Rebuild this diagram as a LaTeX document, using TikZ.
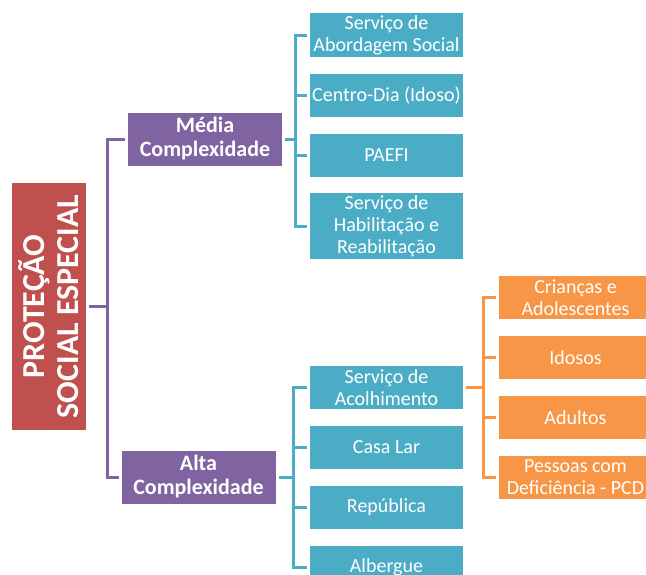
\documentclass[tikz,border=0pt]{standalone}
\usepackage{fontspec}
\setmainfont{Carlito}
\definecolor{redbox}{HTML}{C0504D}
\definecolor{purplebox}{HTML}{8064A2}
\definecolor{tealbox}{HTML}{4BACC6}
\definecolor{orangebox}{HTML}{F79646}
\begin{document}
\begin{tikzpicture}[x=1pt, y=-1pt,
        box/.style={inner sep=0pt, outer sep=3pt, text=white, align=center, font=\fontsize{20}{22}\selectfont},
        level1/.style={box, fill=purplebox, minimum width=154pt, minimum height=53pt, font=\bfseries\fontsize{22}{24}\selectfont},
        level2/.style={box, fill=tealbox, minimum width=153pt, minimum height=43pt},
        level3/.style={box, fill=orangebox, minimum width=153pt, minimum height=43pt},
        link/.style={line width=3pt}]
        \useasboundingbox (0,0) rectangle (646,574);
        \clip (0,0) rectangle (646,574);
        % root, turned on its side (its south side faces right)
        \node[box, fill=redbox, rotate=90, minimum width=247pt, minimum height=74pt,
            font=\bfseries\fontsize{32}{34}\selectfont] (root) at (49,306.5) {PROTEÇÃO\\SOCIAL ESPECIAL};
        \node[level1] (media) at (205,139) {Média\\Complexidade};
        \node[level1] (alta) at (198.5,477) {Alta\\Complexidade};
        % media complexidade
        \node[level2, minimum height=44pt] (m1) at (386.5,35) {Serviço de\\Abordagem Social};
        \node[level2] (m2) at (386.5,95.5) {Centro-Dia (Idoso)};
        \node[level2] (m3) at (386.5,155.5) {PAEFI};
        \node[level2, minimum height=66pt] (m4) at (386.5,226) {Serviço de\\Habilitação e\\Reabilitação};
        % alta complexidade
        \foreach \n/\y/\t in {a1/387.5/{Serviço de\\Acolhimento}, a2/447.5/Casa Lar,
                a3/507.5/República, a4/567.5/Albergue}
            {
                \node[level2] (\n) at (386.5,\y) {\t};
            }
        \foreach \n/\y/\t in {o1/297.5/{Crianças e\\Adolescentes}, o2/357.5/Idosos,
                o3/417.5/Adultos, o4/477.5/{Pessoas com\\Deficiência - PCD}}
            {
                \node[level3] (\n) at (575.5,\y) {\t};
            }
        % brackets
        \coordinate (pv) at (107,306.5);
        \coordinate (tm) at (295.5,139);
        \coordinate (ta) at (293,477);
        \coordinate (oa) at (483,387.5);
        \draw[link, purplebox] (root.south) -- (pv) (pv) |- (media.west) (pv) |- (alta.west);
        \draw[link, tealbox] (media.east) -- (tm);
        \draw[link, tealbox] (alta.east) -- (ta);
        \draw[link, orangebox] (a1.east) -- (oa);
        \foreach \i in {1,...,4}
            {
                \draw[link, tealbox] (tm) |- (m\i.west);
                \draw[link, tealbox] (ta) |- (a\i.west);
                \draw[link, orangebox] (oa) |- (o\i.west);
            }
    \end{tikzpicture}
\end{document}
